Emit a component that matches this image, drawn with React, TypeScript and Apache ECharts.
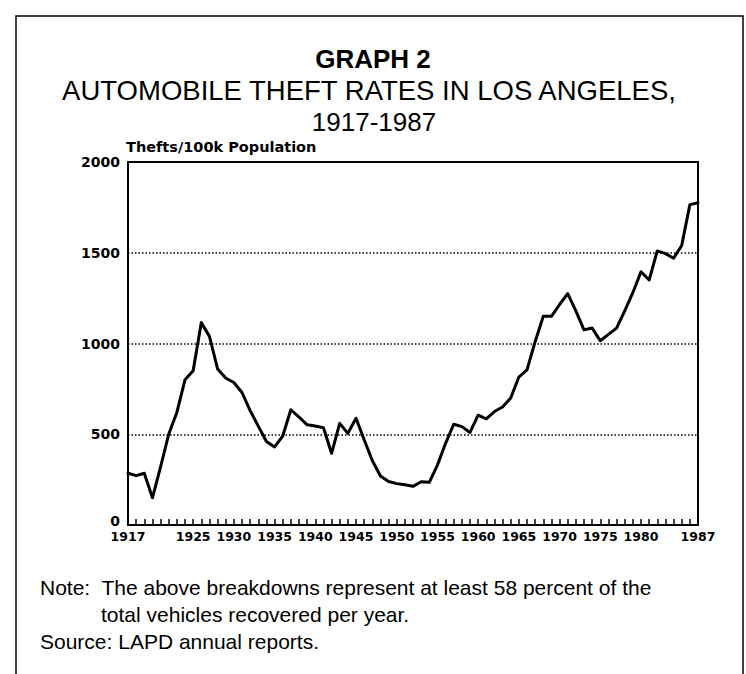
import React, { useEffect, useRef } from "react";
import * as echarts from "echarts";

const years: number[] = [];
for (let y = 1917; y <= 1987; y++) years.push(y);

const theftRates = [
  285, 272, 285, 150, 320, 500, 620, 800, 850, 1115,
  1040, 860, 810, 785, 730, 630, 545, 460, 430, 490,
  635, 595, 552, 545, 536, 395, 560, 505, 588, 470,
  355, 270, 240, 228, 222, 213, 238, 235, 330, 450,
  555, 542, 510, 605, 585, 625, 650, 700, 815, 855,
  1010, 1150, 1150, 1215, 1275, 1180, 1075, 1085, 1015, 1050,
  1085, 1180, 1280, 1395, 1350, 1510, 1495, 1470, 1540, 1765,
  1775,
];

const xLabelYears = [1917, 1925, 1930, 1935, 1940, 1945, 1950, 1955, 1960, 1965, 1970, 1975, 1980, 1987];
const yTicks = [0, 500, 1000, 1500, 2000];

const titleLines = ["GRAPH 2", "AUTOMOBILE THEFT RATES IN LOS ANGELES,", "1917-1987"];
const yAxisTitle = "Thefts/100k Population";
const noteLines = [
  "Note:  The above breakdowns represent at least 58 percent of the",
  "total vehicles recovered per year.",
  "Source: LAPD annual reports.",
];

export default function App() {
  const ref = useRef<HTMLDivElement>(null);
  useEffect(() => {
    if (!ref.current) return;
    const chart = echarts.init(ref.current, undefined, { renderer: "svg" });
    const textFont = "'Liberation Sans', Arial, Helvetica, sans-serif";
    const axisFont = "'DejaVu Sans', sans-serif";
    chart.setOption({
      animation: false,
      backgroundColor: "#ffffff",
      grid: {
        left: 128,
        right: 48,
        top: 162,
        bottom: 149,
        show: true,
        borderColor: "#000",
        borderWidth: 2,
        backgroundColor: "transparent",
      },
      xAxis: {
        type: "value",
        min: 1917,
        max: 1987,
        interval: 1,
        axisLine: { show: true, lineStyle: { color: "#000", width: 2 } },
        axisTick: {
          show: true,
          inside: true,
          length: 6,
          lineStyle: { color: "#000", width: 1.5 },
          customValues: years.slice(1, years.length - 1),
        },
        axisLabel: {
          customValues: xLabelYears,
          color: "#000",
          fontFamily: axisFont,
          fontWeight: "bold",
          fontSize: 12.5,
          margin: 5,
          formatter: (v: number) => String(v),
        },
        splitLine: { show: false },
      },
      yAxis: {
        type: "value",
        min: 0,
        max: 2000,
        interval: 500,
        axisLine: { show: true, lineStyle: { color: "#000", width: 2 } },
        axisTick: { show: false },
        axisLabel: {
          color: "#000",
          fontFamily: axisFont,
          fontWeight: "bold",
          fontSize: 14,
          margin: 8,
          customValues: yTicks,
          formatter: (v: number) => (v === 0 ? "{z|0}" : String(v)),
          rich: {
            z: {
              fontFamily: axisFont,
              fontWeight: "bold",
              fontSize: 14,
              color: "#000",
              padding: [0, 0, 9, 0],
            },
          },
        },
        splitLine: {
          show: true,
          lineStyle: { color: "#000", width: 1.5, type: [1.5, 2] },
        },
      },
      series: [
        {
          type: "line",
          data: years.map((y, i) => [y, theftRates[i]]),
          symbol: "none",
          lineStyle: { color: "#000", width: 3, join: "round", cap: "round" },
          z: 5,
        },
      ],
      graphic: [
        {
          type: "polyline",
          shape: { points: [[16, 674], [16, 16], [743, 16], [743, 674]] },
          style: { stroke: "#000", lineWidth: 1.5, fill: "none" },
        },
        {
          type: "text",
          x: 373,
          y: 59,
          style: {
            text: titleLines[0],
            font: `bold 26px ${textFont}`,
            fill: "#000",
            align: "center",
            verticalAlign: "middle",
          },
        },
        {
          type: "text",
          x: 369,
          y: 90,
          style: {
            text: titleLines[1],
            font: `27.5px ${textFont}`,
            fill: "#000",
            align: "center",
            verticalAlign: "middle",
          },
        },
        {
          type: "text",
          x: 374,
          y: 122,
          style: {
            text: titleLines[2],
            font: `26px ${textFont}`,
            fill: "#000",
            align: "center",
            verticalAlign: "middle",
          },
        },
        {
          type: "text",
          x: 126,
          y: 147,
          style: {
            text: yAxisTitle,
            font: `bold 14.5px ${axisFont}`,
            fill: "#000",
            align: "left",
            verticalAlign: "middle",
          },
        },
        {
          type: "text",
          x: 40,
          y: 587,
          style: {
            text: noteLines[0],
            font: `21px ${textFont}`,
            fill: "#000",
            align: "left",
            verticalAlign: "middle",
          },
        },
        {
          type: "text",
          x: 101,
          y: 614,
          style: {
            text: noteLines[1],
            font: `21px ${textFont}`,
            fill: "#000",
            align: "left",
            verticalAlign: "middle",
          },
        },
        {
          type: "text",
          x: 40,
          y: 641,
          style: {
            text: noteLines[2],
            font: `21px ${textFont}`,
            fill: "#000",
            align: "left",
            verticalAlign: "middle",
          },
        },
      ],
    });
    return () => chart.dispose();
  }, []);
  return (
    <div
      ref={ref}
      style={{ position: "fixed", left: 0, top: 0, width: 746, height: 674 }}
    />
  );
}
